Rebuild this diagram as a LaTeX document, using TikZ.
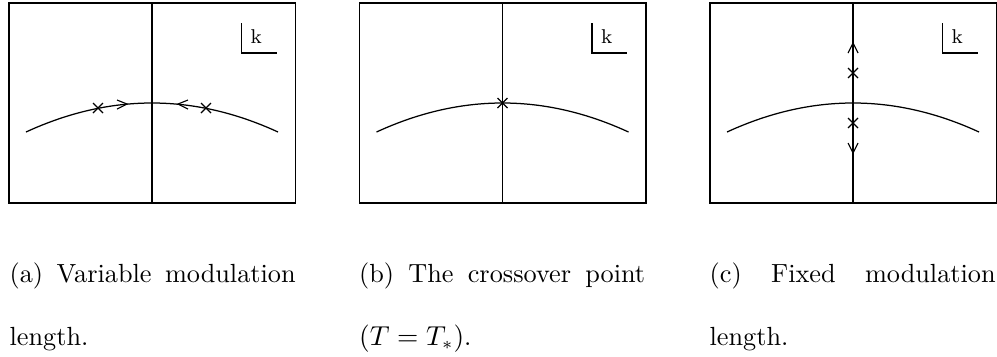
\documentclass[tikz,border=0pt]{standalone}
\begin{document}
\begin{tikzpicture}[x=0.4pt,y=-0.4pt,line width=0.5pt,
  captext/.style={anchor=base west,inner sep=0pt,font=\fontsize{10.5}{12.6}\selectfont},
  klabel/.style={anchor=base west,inner sep=0pt,font=\footnotesize},
  chev/.style={line width=0.45pt,line join=miter}]
\useasboundingbox (0,0) rectangle (997,356);
\newcommand\xmk[2]{\draw (#1,#2) +(-5,-5) -- +(5,5) +(-5,5) -- +(5,-5);}
\foreach \s/\n in {0/a,350.5/b,701/c}{
  \begin{scope}[shift={(\s,0)}]
    \draw (9,3) rectangle (295.5,203);
    \draw (152,3) -- (152,203);
    \draw (26,132) .. controls (110,93.33) and (194,93.33) .. (278,132);
    \draw (241.5,23) -- (241.5,53) -- (276.5,53);
    \node[klabel] (k\n) at (250,43) {k};
  \end{scope}
}
% panel (a)
\xmk{98}{108}
\xmk{206}{108}
\draw[chev] (117,100) -- (127,104) -- (117,109);
\draw[chev] (188,100) -- (178,104) -- (188,109);
% panel (b)
\xmk{502.5}{103}
% panel (c)
\xmk{853}{73}
\xmk{853}{123}
\draw[chev] (848,53) -- (853,43) -- (858,53);
\draw[chev] (848,143) -- (853,153) -- (858,143);
% captions
\node[captext] (ca1) at (9,282) {\makebox[114.4pt][s]{(a) Variable modulation}};
\node[captext] (ca2) at (9,345) {length.};
\node[captext] (cb1) at (358.5,282) {\makebox[114.4pt][s]{(b) The crossover point}};
\node[captext] (cb2) at (358.5,345) {$(T=T_*)$.};
\node[captext] (cc1) at (709,282) {\makebox[114.4pt][s]{(c) Fixed modulation}};
\node[captext] (cc2) at (709,345) {length.};
\end{tikzpicture}
\end{document}
